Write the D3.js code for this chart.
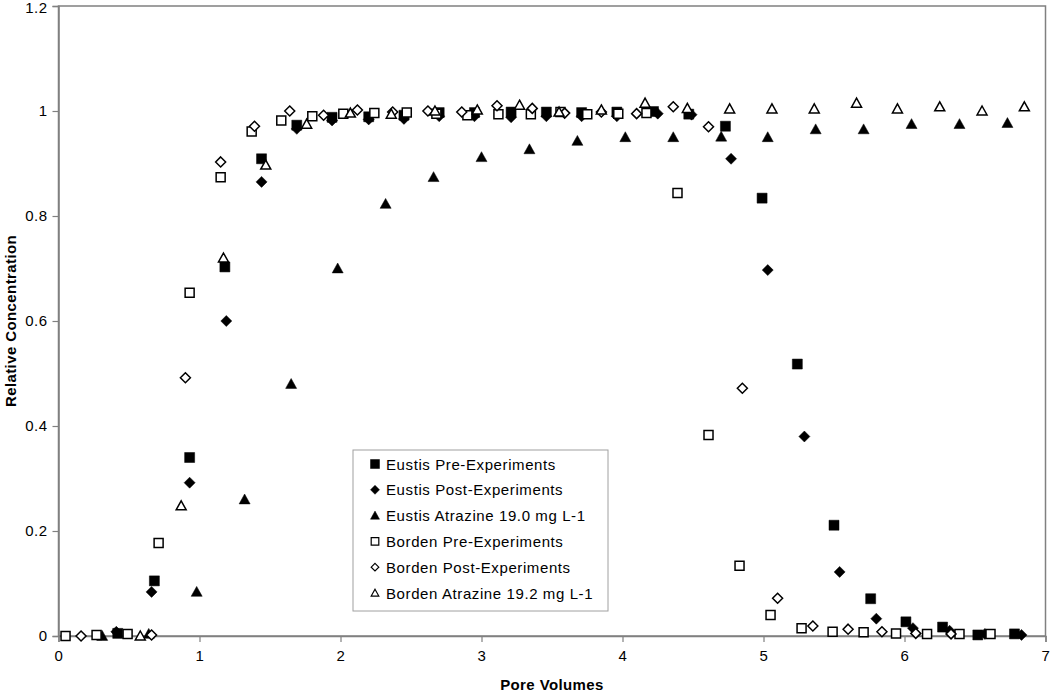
<!DOCTYPE html>
<html>
<head>
<meta charset="utf-8">
<script src="https://cdn.jsdelivr.net/npm/d3@7/dist/d3.min.js"></script>
<style>
  body { margin: 0; background: #fff; }
  svg { font-family: "Liberation Sans", Arial, sans-serif; }
</style>
</head>
<body>
<div id="chart"></div>
<script>
// series data: pore volumes / relative concentration
const eustisPreX = [0.42, 0.68, 0.93, 1.18, 1.44, 1.69, 1.94, 2.20, 2.45, 2.70, 2.95, 3.21, 3.46, 3.71, 3.96, 4.22, 4.47, 4.73, 4.99, 5.24, 5.50, 5.76, 6.01, 6.27, 6.52, 6.78];
const eustisPreY = [0.005, 0.105, 0.34, 0.703, 0.909, 0.973, 0.988, 0.989, 0.992, 0.997, 0.997, 0.998, 0.998, 0.997, 0.998, 0.999, 0.994, 0.971, 0.834, 0.518, 0.211, 0.071, 0.027, 0.017, 0.002, 0.004];

const eustisPostX = [0.41, 0.66, 0.93, 1.19, 1.44, 1.69, 1.94, 2.20, 2.45, 2.70, 2.95, 3.21, 3.46, 3.71, 3.96, 4.25, 4.49, 4.77, 5.03, 5.29, 5.54, 5.80, 6.06, 6.32, 6.57, 6.83];
const eustisPostY = [0.008, 0.084, 0.292, 0.60, 0.865, 0.966, 0.982, 0.984, 0.985, 0.99, 0.99, 0.988, 0.99, 0.99, 0.99, 0.995, 0.993, 0.909, 0.697, 0.38, 0.122, 0.033, 0.015, 0.01, 0.004, 0.002];

const eustisAtrX = [0.31, 0.64, 0.98, 1.32, 1.65, 1.98, 2.32, 2.66, 3.00, 3.34, 3.68, 4.02, 4.36, 4.70, 5.03, 5.37, 5.71, 6.05, 6.39, 6.73];
const eustisAtrY = [0.0, 0.004, 0.084, 0.26, 0.48, 0.70, 0.823, 0.874, 0.912, 0.927, 0.943, 0.95, 0.95, 0.951, 0.95, 0.965, 0.965, 0.975, 0.975, 0.977];

const bordenPreX = [0.05, 0.27, 0.49, 0.71, 0.93, 1.15, 1.37, 1.58, 1.80, 2.02, 2.24, 2.47, 2.68, 2.90, 3.12, 3.35, 3.56, 3.75, 3.97, 4.17, 4.39, 4.61, 4.83, 5.05, 5.27, 5.49, 5.71, 5.94, 6.16, 6.39, 6.61];
const bordenPreY = [0.0, 0.002, 0.004, 0.177, 0.654, 0.874, 0.961, 0.982, 0.99, 0.995, 0.996, 0.997, 0.995, 0.992, 0.994, 0.994, 0.998, 0.994, 0.995, 0.996, 0.844, 0.383, 0.134, 0.04, 0.015, 0.008, 0.007, 0.005, 0.004, 0.004, 0.004];

const bordenPostX = [0.16, 0.66, 0.90, 1.15, 1.39, 1.64, 1.88, 2.12, 2.37, 2.62, 2.86, 3.11, 3.36, 3.59, 3.85, 4.10, 4.36, 4.61, 4.85, 5.10, 5.35, 5.60, 5.84, 6.08, 6.33];
const bordenPostY = [0.0, 0.002, 0.492, 0.903, 0.971, 1.0, 0.992, 1.002, 0.998, 1.0, 0.998, 1.01, 1.005, 0.996, 0.998, 0.995, 1.008, 0.97, 0.472, 0.072, 0.019, 0.013, 0.008, 0.005, 0.004];

const bordenAtrX = [0.58, 0.87, 1.17, 1.47, 1.76, 2.07, 2.36, 2.67, 2.97, 3.27, 3.55, 3.85, 4.16, 4.46, 4.76, 5.06, 5.36, 5.66, 5.95, 6.25, 6.55, 6.85];
const bordenAtrY = [0.0, 0.248, 0.72, 0.897, 0.975, 0.996, 0.994, 1.0, 1.002, 1.011, 0.998, 1.002, 1.015, 1.005, 1.004, 1.004, 1.004, 1.015, 1.004, 1.008, 1.0, 1.008];

const seriesNames = [
  "Eustis Pre-Experiments",
  "Eustis Post-Experiments",
  "Eustis Atrazine 19.0 mg L-1",
  "Borden Pre-Experiments",
  "Borden Post-Experiments",
  "Borden Atrazine 19.2 mg L-1"
];
const xTicks = [0, 1, 2, 3, 4, 5, 6, 7];
const yTicks = [0, 0.2, 0.4, 0.6, 0.8, 1, 1.2];

const series = [
  { name: seriesNames[0], xs: eustisPreX, ys: eustisPreY, shape: "square", filled: true },
  { name: seriesNames[1], xs: eustisPostX, ys: eustisPostY, shape: "diamond", filled: true },
  { name: seriesNames[2], xs: eustisAtrX, ys: eustisAtrY, shape: "triangle", filled: true },
  { name: seriesNames[3], xs: bordenPreX, ys: bordenPreY, shape: "square", filled: false },
  { name: seriesNames[4], xs: bordenPostX, ys: bordenPostY, shape: "diamond", filled: false },
  { name: seriesNames[5], xs: bordenAtrX, ys: bordenAtrY, shape: "triangle", filled: false }
];

const width = 1050;
const height = 694;
const margin = { top: 6, right: 4.5, bottom: 58, left: 58.5 };

const svg = d3.select("#chart")
  .append("svg")
  .attr("width", width)
  .attr("height", height);

const x = d3.scaleLinear()
  .domain([0, 7])
  .range([margin.left, width - margin.right]);

const y = d3.scaleLinear()
  .domain([0, 1.2])
  .range([height - margin.bottom, margin.top]);

// marker outlines, r = half width
function markerPath(shape, r) {
  if (shape === "square") {
    return `M${-r},${-r}H${r}V${r}H${-r}Z`;
  }
  if (shape === "diamond") {
    return `M0,${-r}L${r},0L0,${r}L${-r},0Z`;
  }
  return `M0,${-r}L${r},${r * 0.8}L${-r},${r * 0.8}Z`;
}

function markerSize(s) {
  if (s.shape === "square") return s.filled ? 5 : 4.5;
  if (s.shape === "diamond") return s.filled ? 5.5 : 5;
  return s.filled ? 5.5 : 5;
}

// plot frame
svg.append("rect")
  .attr("x", margin.left)
  .attr("y", margin.top)
  .attr("width", width - margin.right - margin.left)
  .attr("height", height - margin.bottom - margin.top)
  .attr("fill", "none")
  .attr("stroke", "#808080")
  .attr("stroke-width", 1.5);

// Axes
const xAxis = svg.append("g")
  .attr("transform", `translate(0,${height - margin.bottom})`)
  .call(d3.axisBottom(x).tickValues(xTicks).tickSize(6).tickPadding(8).tickFormat(d3.format("d")));

const yAxis = svg.append("g")
  .attr("transform", `translate(${margin.left},0)`)
  .call(d3.axisLeft(y).tickValues(yTicks).tickSize(6).tickPadding(5).tickFormat(d => String(+d.toFixed(1))));

[xAxis, yAxis].forEach(g => {
  g.select(".domain").attr("stroke", "#808080").attr("stroke-width", 1.5);
  g.selectAll(".tick line").attr("stroke", "#808080").attr("stroke-width", 1.2);
  g.selectAll(".tick text")
    .attr("fill", "#000")
    .style("font-size", "15px")
    .style("letter-spacing", "0.5px");
});

// keep the top label inside the page
yAxis.selectAll(".tick text").filter(d => d === 1.2).attr("dy", "0.45em");

// Points
series.forEach(s => {
  const pts = s.xs.map((v, i) => [v, s.ys[i]]);
  svg.append("g")
    .selectAll("path")
    .data(pts)
    .join("path")
    .attr("transform", d => `translate(${x(d[0])},${y(d[1])})`)
    .attr("d", markerPath(s.shape, markerSize(s)))
    .attr("fill", s.filled ? "#000" : "#fff")
    .attr("stroke", "#000")
    .attr("stroke-width", s.filled ? 0.5 : 1.5);
});

// Legend
const legend = svg.append("g").attr("transform", "translate(353,450)");
legend.append("rect")
  .attr("width", 255)
  .attr("height", 161)
  .attr("fill", "#fff")
  .attr("stroke", "#a0a0a0")
  .attr("stroke-width", 1);

series.forEach((s, i) => {
  const row = legend.append("g").attr("transform", `translate(0,${14 + i * 25.8})`);
  const r = s.filled ? 4.5 : 3.8;
  row.append("path")
    .attr("transform", "translate(22,0)")
    .attr("d", markerPath(s.shape, r))
    .attr("fill", s.filled ? "#000" : "#fff")
    .attr("stroke", "#000")
    .attr("stroke-width", s.filled ? 0.5 : 1.2);
  row.append("text")
    .attr("x", 33)
    .attr("y", 5.5)
    .style("font-size", "15px")
    .style("letter-spacing", "0.6px")
    .text(s.name);
});

// X-axis label
svg.append("text")
  .attr("x", (margin.left + width - margin.right) / 2)
  .attr("y", 690)
  .attr("text-anchor", "middle")
  .style("font-size", "15px")
  .style("font-weight", "bold")
  .style("letter-spacing", "0.4px")
  .text("Pore Volumes");

// Y-axis label
svg.append("text")
  .attr("x", -(margin.top + height - margin.bottom) / 2)
  .attr("y", 16)
  .attr("transform", "rotate(-90)")
  .attr("text-anchor", "middle")
  .style("font-size", "15px")
  .style("font-weight", "bold")
  .style("letter-spacing", "0.4px")
  .text("Relative Concentration");
</script>
</body>
</html>
